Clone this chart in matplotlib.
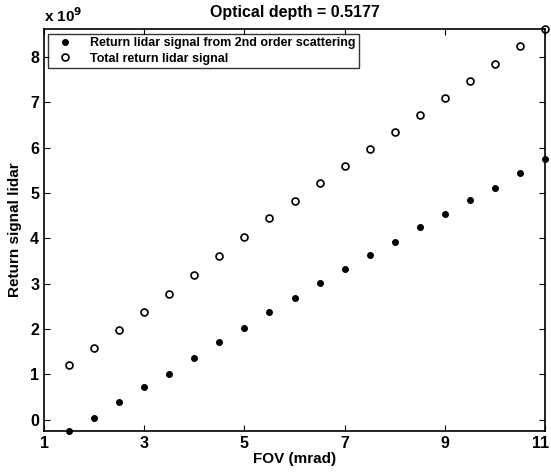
import matplotlib
matplotlib.use('Agg')
import matplotlib.pyplot as plt
from matplotlib.transforms import ScaledTranslation

plt.rcParams['font.family'] = ['Liberation Sans', 'DejaVu Sans']
plt.rcParams['font.weight'] = 'bold'

# FOV (mrad)
fov = [1.5, 2, 2.5, 3, 3.5, 4, 4.5, 5, 5.5, 6, 6.5, 7, 7.5, 8, 8.5, 9, 9.5, 10, 10.5, 11]
# return signal, units of 1e9
second_order = [-0.25, 0.04, 0.38, 0.72, 1.01, 1.36, 1.71, 2.03, 2.38, 2.68,
                3.01, 3.33, 3.64, 3.91, 4.24, 4.53, 4.84, 5.11, 5.43, 5.74]
total = [1.20, 1.58, 1.97, 2.38, 2.78, 3.20, 3.60, 4.03, 4.44, 4.83,
         5.22, 5.60, 5.98, 6.34, 6.71, 7.09, 7.47, 7.85, 8.24, 8.61]

fig = plt.figure(figsize=(5.51, 4.73), dpi=100)
ax = fig.add_axes([0.080, 0.089, 0.909, 0.849])

ax.plot(fov, second_order, 'o', ms=4, color='black', mec='black',
        clip_on=False, label='Return lidar signal from 2nd order scattering')
ax.plot(fov, total, 'o', ms=5, mfc='white', mec='black', mew=1.2,
        clip_on=False, label='Total return lidar signal')

ax.set_xlim(1, 11)
ax.set_ylim(-0.25, 8.61)
ax.set_xticks([1, 3, 5, 7, 9, 11])
ax.set_yticks(range(0, 9))
ax.tick_params(direction='in', top=True, right=True, labelsize=11.5, length=4)
for lab in ax.get_xticklabels() + ax.get_yticklabels():
    lab.set_fontweight('bold')
# keep the last x label inside the figure
last = ax.get_xticklabels()[-1]
last.set_transform(last.get_transform() + ScaledTranslation(-3/72, 0, fig.dpi_scale_trans))
for s in ax.spines.values():
    s.set_linewidth(1.2)

ax.set_title('Optical depth = 0.5177', fontsize=11.5, fontweight='bold', pad=9)
ax.set_xlabel('FOV (mrad)', fontsize=11, fontweight='bold', labelpad=1)
ax.set_ylabel('Return signal lidar', fontsize=11, fontweight='bold', labelpad=6)
ax.text(0.0, 1.012, r'x 10$^{\mathbf{9}}$', transform=ax.transAxes,
        fontsize=11, fontweight='bold', ha='left', va='bottom')

leg = ax.legend(loc='upper left', fontsize=9, frameon=True, fancybox=False,
                edgecolor='black', borderaxespad=0.35, handletextpad=1.0,
                borderpad=0.3, labelspacing=0.25, handlelength=2.0)
leg.get_frame().set_linewidth(1.0)

plt.savefig('out.png', dpi=100)
